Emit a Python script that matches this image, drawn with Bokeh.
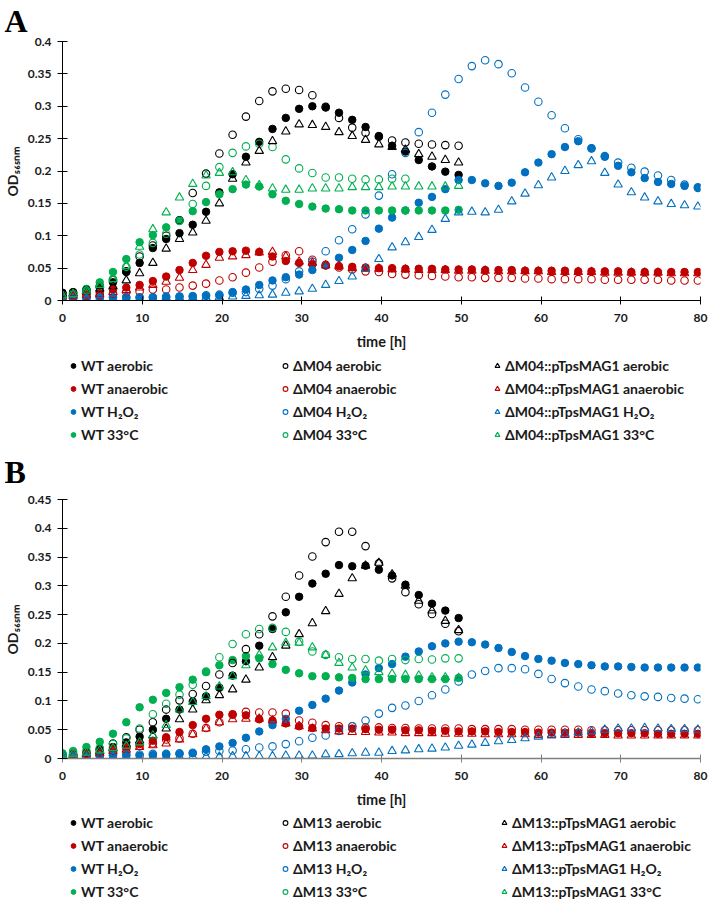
from bokeh.plotting import figure
from bokeh.models import Legend, LegendItem, FixedTicker, Range1d
from bokeh.layouts import column
from bokeh.embed import file_html
from bokeh.resources import INLINE

# ---------------- data ----------------
times = [0, 1.33, 3, 4.67, 6.33, 8, 9.67, 11.33, 13, 14.67, 16.33, 18, 19.67, 21.33, 23, 24.67,
         26.33, 28, 29.67, 31.33, 33, 34.67, 36.33, 38, 39.67, 41.33, 43, 44.67, 46.33, 48, 49.67,
         51.33, 53, 54.67, 56.33, 58, 59.67, 61.33, 63, 64.67, 66.33, 68, 69.67, 71.33, 73, 74.67,
         76.33, 78, 79.67]

x_ticks = [0, 10, 20, 30, 40, 50, 60, 70, 80]
x_tick_labels = ["0", "10", "20", "30", "40", "50", "60", "70", "80"]
yA_ticks = [0, 0.05, 0.1, 0.15, 0.2, 0.25, 0.3, 0.35, 0.4]
yA_tick_labels = ["0", "0.05", "0.1", "0.15", "0.2", "0.25", "0.3", "0.35", "0.4"]
yB_ticks = [0, 0.05, 0.1, 0.15, 0.2, 0.25, 0.3, 0.35, 0.4, 0.45]
yB_tick_labels = ["0", "0.05", "0.1", "0.15", "0.2", "0.25", "0.3", "0.35", "0.4", "0.45"]

conditions = ["aerobic", "anaerobic", "H\u2082O\u2082", "33\u00b0C"]

# Panel A (ΔM04)
A_wt_aer = [0.012, 0.013, 0.016, 0.020, 0.028, 0.044, 0.058, 0.081, 0.095, 0.104, 0.117, 0.137, 0.167,
            0.195, 0.222, 0.245, 0.265, 0.282, 0.296, 0.300, 0.298, 0.290, 0.279, 0.268, 0.254, 0.239,
            0.230, 0.217, 0.207, 0.199, 0.194]
A_mut_aer = [0.010, 0.012, 0.016, 0.022, 0.032, 0.045, 0.068, 0.085, 0.100, 0.124, 0.166, 0.196, 0.227,
             0.256, 0.284, 0.308, 0.323, 0.327, 0.325, 0.317, 0.299, 0.282, 0.267, 0.259, 0.253, 0.247,
             0.244, 0.242, 0.241, 0.240, 0.239]
A_comp_aer = [0.010, 0.011, 0.014, 0.018, 0.022, 0.031, 0.042, 0.058, 0.080, 0.095, 0.105, 0.123, 0.150,
              0.188, 0.213, 0.231, 0.246, 0.261, 0.272, 0.271, 0.268, 0.260, 0.254, 0.248, 0.241, 0.237,
              0.233, 0.226, 0.222, 0.217, 0.213]
A_wt_ana = [0.008, 0.008, 0.010, 0.012, 0.017, 0.020, 0.024, 0.030, 0.037, 0.047, 0.058, 0.069, 0.075,
            0.076, 0.077, 0.075, 0.068, 0.061, 0.058, 0.056, 0.054, 0.053, 0.052, 0.051, 0.050, 0.050,
            0.049, 0.049, 0.049, 0.048, 0.048, 0.048, 0.047, 0.047, 0.047, 0.046, 0.046, 0.046, 0.046,
            0.045, 0.045, 0.045, 0.045, 0.044, 0.044, 0.044, 0.044, 0.044, 0.044]
A_mut_ana = [0.005, 0.006, 0.007, 0.008, 0.010, 0.013, 0.014, 0.017, 0.017, 0.020, 0.023, 0.026, 0.031,
             0.036, 0.043, 0.051, 0.060, 0.070, 0.076, 0.063, 0.055, 0.051, 0.048, 0.045, 0.044, 0.041,
             0.040, 0.039, 0.038, 0.037, 0.036, 0.036, 0.035, 0.035, 0.035, 0.034, 0.034, 0.033, 0.033,
             0.033, 0.033, 0.032, 0.032, 0.032, 0.032, 0.032, 0.031, 0.031, 0.031]
A_comp_ana = [0.006, 0.007, 0.008, 0.010, 0.013, 0.016, 0.020, 0.024, 0.029, 0.035, 0.047, 0.055, 0.066,
              0.068, 0.070, 0.074, 0.075, 0.068, 0.060, 0.058, 0.054, 0.053, 0.050, 0.049, 0.049, 0.048,
              0.048, 0.047, 0.047, 0.047, 0.046, 0.046, 0.046, 0.045, 0.045, 0.045, 0.045, 0.044, 0.044,
              0.044, 0.044, 0.043, 0.043, 0.043, 0.043, 0.043, 0.042, 0.042, 0.042]
A_wt_h2o2 = [0.005, 0.005, 0.005, 0.005, 0.005, 0.005, 0.005, 0.005, 0.005, 0.006, 0.006, 0.007, 0.008,
             0.013, 0.017, 0.024, 0.031, 0.036, 0.040, 0.047, 0.054, 0.066, 0.078, 0.092, 0.111, 0.128,
             0.139, 0.151, 0.160, 0.172, 0.186, 0.186, 0.181, 0.177, 0.182, 0.198, 0.213, 0.226, 0.237,
             0.246, 0.235, 0.222, 0.208, 0.198, 0.189, 0.183, 0.180, 0.177, 0.175]
A_mut_h2o2 = [0.004, 0.004, 0.004, 0.005, 0.005, 0.005, 0.005, 0.005, 0.006, 0.006, 0.007, 0.008, 0.009,
              0.012, 0.013, 0.018, 0.023, 0.033, 0.045, 0.060, 0.076, 0.093, 0.110, 0.133, 0.162, 0.195,
              0.228, 0.260, 0.290, 0.318, 0.342, 0.362, 0.371, 0.365, 0.351, 0.329, 0.307, 0.286, 0.266,
              0.249, 0.235, 0.223, 0.213, 0.205, 0.199, 0.193, 0.186, 0.179, 0.174]
A_comp_h2o2 = [0.003, 0.003, 0.003, 0.003, 0.003, 0.003, 0.003, 0.003, 0.004, 0.004, 0.004, 0.004, 0.005,
               0.006, 0.007, 0.008, 0.009, 0.012, 0.014, 0.018, 0.024, 0.030, 0.037, 0.049, 0.064, 0.082,
               0.090, 0.098, 0.109, 0.126, 0.136, 0.137, 0.136, 0.140, 0.153, 0.165, 0.178, 0.190, 0.200,
               0.209, 0.215, 0.197, 0.179, 0.167, 0.159, 0.153, 0.149, 0.147, 0.145]
A_wt_33 = [0.008, 0.011, 0.018, 0.028, 0.044, 0.064, 0.090, 0.101, 0.113, 0.124, 0.138, 0.152, 0.164,
           0.172, 0.179, 0.176, 0.164, 0.154, 0.149, 0.145, 0.142, 0.141, 0.139, 0.139, 0.139, 0.139,
           0.139, 0.139, 0.139, 0.139, 0.140]
A_mut_33 = [0.008, 0.010, 0.015, 0.022, 0.033, 0.052, 0.071, 0.089, 0.103, 0.123, 0.149, 0.177, 0.206,
            0.228, 0.238, 0.242, 0.237, 0.218, 0.204, 0.197, 0.190, 0.190, 0.188, 0.187, 0.187, 0.188,
            0.188]
A_comp_33 = [0.008, 0.010, 0.015, 0.024, 0.033, 0.053, 0.083, 0.110, 0.136, 0.159, 0.180, 0.193, 0.197,
             0.198, 0.186, 0.178, 0.173, 0.171, 0.171, 0.173, 0.173, 0.173, 0.175, 0.175, 0.175, 0.176,
             0.176, 0.176, 0.176, 0.176, 0.177]

# Panel B (ΔM13)
B_wt_aer = [0.005, 0.007, 0.010, 0.015, 0.020, 0.028, 0.038, 0.050, 0.069, 0.085, 0.099, 0.108, 0.123,
            0.144, 0.169, 0.196, 0.225, 0.254, 0.281, 0.304, 0.321, 0.336, 0.334, 0.335, 0.328, 0.318,
            0.302, 0.284, 0.269, 0.257, 0.244]
B_mut_aer = [0.005, 0.007, 0.010, 0.016, 0.026, 0.037, 0.050, 0.063, 0.085, 0.101, 0.112, 0.126, 0.146,
             0.166, 0.190, 0.216, 0.247, 0.281, 0.318, 0.351, 0.376, 0.394, 0.394, 0.369, 0.339, 0.313,
             0.289, 0.268, 0.251, 0.234, 0.221]
B_comp_aer = [0.005, 0.006, 0.008, 0.012, 0.018, 0.025, 0.031, 0.040, 0.052, 0.068, 0.085, 0.101, 0.110,
              0.120, 0.137, 0.158, 0.176, 0.196, 0.216, 0.235, 0.256, 0.286, 0.313, 0.335, 0.340, 0.320,
              0.300, 0.274, 0.257, 0.239, 0.223]
B_wt_ana = [0.005, 0.006, 0.008, 0.010, 0.017, 0.020, 0.025, 0.031, 0.037, 0.046, 0.058, 0.069, 0.076,
            0.077, 0.075, 0.068, 0.066, 0.061, 0.056, 0.053, 0.052, 0.052, 0.052, 0.051, 0.050, 0.050,
            0.049, 0.049, 0.048, 0.048, 0.047, 0.047, 0.047, 0.046, 0.046, 0.046, 0.045, 0.045, 0.045,
            0.045, 0.044, 0.044, 0.044, 0.044, 0.044, 0.043, 0.043, 0.043, 0.043]
B_mut_ana = [0.005, 0.006, 0.008, 0.010, 0.013, 0.018, 0.022, 0.026, 0.033, 0.035, 0.043, 0.053, 0.063,
             0.076, 0.081, 0.080, 0.080, 0.078, 0.066, 0.062, 0.058, 0.056, 0.056, 0.054, 0.054, 0.053,
             0.053, 0.052, 0.052, 0.052, 0.052, 0.051, 0.051, 0.051, 0.051, 0.050, 0.050, 0.050, 0.050,
             0.050, 0.049, 0.049, 0.049, 0.049, 0.049, 0.049, 0.049, 0.049, 0.049]
B_comp_ana = [0.005, 0.006, 0.007, 0.009, 0.013, 0.015, 0.020, 0.023, 0.026, 0.033, 0.042, 0.052, 0.063,
              0.068, 0.069, 0.069, 0.066, 0.061, 0.056, 0.052, 0.049, 0.047, 0.046, 0.046, 0.045, 0.045,
              0.044, 0.044, 0.044, 0.043, 0.043, 0.043, 0.042, 0.042, 0.042, 0.042, 0.041, 0.041, 0.041,
              0.041, 0.041, 0.041, 0.040, 0.040, 0.040, 0.040, 0.040, 0.040, 0.040]
B_wt_h2o2 = [0.004, 0.004, 0.004, 0.004, 0.005, 0.005, 0.005, 0.006, 0.007, 0.008, 0.009, 0.016, 0.021,
             0.027, 0.036, 0.047, 0.058, 0.069, 0.083, 0.093, 0.104, 0.118, 0.132, 0.146, 0.157, 0.164,
             0.177, 0.186, 0.195, 0.200, 0.203, 0.202, 0.198, 0.192, 0.185, 0.178, 0.173, 0.170, 0.166,
             0.164, 0.162, 0.160, 0.160, 0.159, 0.158, 0.158, 0.158, 0.158, 0.158]
B_mut_h2o2 = [0.005, 0.005, 0.005, 0.006, 0.006, 0.007, 0.007, 0.008, 0.008, 0.009, 0.010, 0.012, 0.013,
              0.014, 0.016, 0.019, 0.021, 0.025, 0.030, 0.036, 0.040, 0.048, 0.056, 0.066, 0.078, 0.088,
              0.092, 0.100, 0.110, 0.120, 0.134, 0.146, 0.152, 0.157, 0.157, 0.155, 0.147, 0.138, 0.131,
              0.125, 0.120, 0.117, 0.113, 0.110, 0.108, 0.107, 0.105, 0.104, 0.103]
B_comp_h2o2 = [0.003, 0.003, 0.003, 0.003, 0.003, 0.003, 0.003, 0.003, 0.003, 0.003, 0.003, 0.003, 0.003,
               0.004, 0.004, 0.004, 0.004, 0.005, 0.005, 0.005, 0.007, 0.0075, 0.009, 0.010, 0.010, 0.013,
               0.014, 0.016, 0.017, 0.019, 0.022, 0.024, 0.027, 0.030, 0.032, 0.035, 0.038, 0.040, 0.043,
               0.045, 0.047, 0.050, 0.052, 0.052, 0.053, 0.052, 0.051, 0.051, 0.050]
B_wt_33 = [0.009, 0.013, 0.020, 0.029, 0.043, 0.063, 0.089, 0.102, 0.114, 0.124, 0.137, 0.150, 0.162,
           0.171, 0.178, 0.174, 0.164, 0.154, 0.148, 0.143, 0.143, 0.141, 0.140, 0.138, 0.138, 0.138,
           0.138, 0.138, 0.138, 0.138, 0.140]
B_mut_33 = [0.008, 0.010, 0.013, 0.018, 0.025, 0.035, 0.052, 0.077, 0.095, 0.111, 0.128, 0.151, 0.176,
            0.199, 0.216, 0.225, 0.227, 0.220, 0.203, 0.186, 0.180, 0.176, 0.173, 0.173, 0.170, 0.173,
            0.171, 0.173, 0.172, 0.174, 0.174]
B_comp_33 = [0.006, 0.008, 0.010, 0.014, 0.018, 0.022, 0.028, 0.040, 0.058, 0.085, 0.098, 0.108, 0.125,
             0.143, 0.162, 0.180, 0.193, 0.201, 0.201, 0.193, 0.180, 0.166, 0.158, 0.153, 0.150, 0.147,
             0.145, 0.144, 0.141, 0.141, 0.140]

# ---------------- style ----------------
FONT = "Lato"
COLORS = ["#000000", "#C00000", "#0070C0", "#00B050"]
TXT = "#1a1a1a"
W = 709


def marker_kwargs(si, col):
    if si == 0:
        return dict(marker="circle", size=7.5, fill_color=col, line_color=col, line_width=1)
    if si == 1:
        return dict(marker="circle", size=7.5, fill_color=None, line_color=col, line_width=1.1)
    return dict(marker="triangle", size=8.5, fill_color=None, line_color=col, line_width=1.1)


def plot_panel(letter, series, ymax, yticks, ylabels, height, b_top, b_bottom,
               xaxis_color, xaxis_w, title_standoff):
    p = figure(width=W, height=height, x_range=(0, 80), y_range=(0, ymax),
               output_backend="svg", toolbar_location=None,
               min_border_left=60, min_border_right=9, min_border_top=b_top,
               min_border_bottom=b_bottom)
    p.outline_line_color = None
    p.xgrid.visible = False
    p.ygrid.visible = False

    p.title.text = letter
    p.title.text_font = "Liberation Serif"
    p.title.text_font_style = "bold"
    p.title.text_font_size = "32px"
    p.title.text_color = "#000000"
    p.title.align = "left"
    p.title.offset = -58
    p.title.standoff = title_standoff
    p.title.vertical_align = "top"

    p.xaxis.ticker = FixedTicker(ticks=x_ticks)
    p.xaxis.major_label_overrides = {t: l for t, l in zip(x_ticks, x_tick_labels)}
    p.yaxis.ticker = FixedTicker(ticks=yticks)
    p.yaxis.major_label_overrides = {t: l for t, l in zip(yticks, ylabels)}
    for ax in (p.xaxis[0], p.yaxis[0]):
        ax.minor_tick_line_color = None
        ax.major_label_text_font = FONT
        ax.major_label_text_font_style = "bold"
        ax.major_label_text_font_size = "12px"
        ax.major_label_text_color = TXT
        ax.axis_label_text_font = FONT
        ax.axis_label_text_font_style = "bold"
        ax.axis_label_text_color = TXT
    p.yaxis.axis_line_color = "#000000"
    p.yaxis.major_tick_line_color = "#000000"
    p.yaxis.major_tick_in = 5
    p.yaxis.major_tick_out = 5
    p.yaxis.major_label_standoff = 6
    p.yaxis.axis_label = "OD\u2085\u2086\u2085\u2099\u2098"
    p.yaxis.axis_label_text_font_size = "14px"
    p.yaxis.axis_label_standoff = 4

    p.xaxis.axis_line_color = xaxis_color
    p.xaxis.axis_line_width = xaxis_w
    p.xaxis.major_tick_line_color = xaxis_color
    p.xaxis.major_tick_in = 4
    p.xaxis.major_tick_out = 4
    p.xaxis.major_label_standoff = 9
    p.xaxis.axis_label = "time [h]"
    p.xaxis.axis_label_text_font_size = "14.5px"
    p.xaxis.axis_label_standoff = 8

    for si in range(3):
        for ci in range(4):
            vals = series[si][ci]
            p.scatter(times[:len(vals)], vals, **marker_kwargs(si, COLORS[ci]))
    return p


def legend_panel(strain, series, height, vy, col_x):
    # the frame of this strip is aligned with the plot frame (left edge at x=60)
    p = figure(width=W, height=height, x_range=(0, 80), y_range=(0, 1),
               output_backend="svg", toolbar_location=None,
               x_axis_location=None, y_axis_location=None,
               min_border_left=60, min_border_right=9, min_border_top=0, min_border_bottom=0)
    p.outline_line_color = None
    p.xgrid.visible = False
    p.ygrid.visible = False
    p.extra_y_ranges = {"off": Range1d(start=5, end=6)}   # keeps the proxy marks out of view
    strains = ["WT", strain, strain + "::pTpsMAG1"]
    for si in range(3):
        items = []
        for ci in range(4):
            vals = series[si][ci]
            r = p.scatter(times[:len(vals)], vals, y_range_name="off",
                          **marker_kwargs(si, COLORS[ci]))
            items.append(LegendItem(label=strains[si] + " " + conditions[ci], renderers=[r]))
        lg = Legend(items=items, location=(col_x[si], vy),
                    orientation="vertical", glyph_width=12, glyph_height=23,
                    label_height=23, label_standoff=2, spacing=0, padding=0, margin=0,
                    border_line_color=None, background_fill_alpha=0,
                    label_text_font=FONT, label_text_font_style="bold",
                    label_text_font_size="14px", label_text_color=TXT)
        p.add_layout(lg, "center")
    return p


seriesA = [[A_wt_aer, A_wt_ana, A_wt_h2o2, A_wt_33],
           [A_mut_aer, A_mut_ana, A_mut_h2o2, A_mut_33],
           [A_comp_aer, A_comp_ana, A_comp_h2o2, A_comp_33]]
seriesB = [[B_wt_aer, B_wt_ana, B_wt_h2o2, B_wt_33],
           [B_mut_aer, B_mut_ana, B_mut_h2o2, B_mut_33],
           [B_comp_aer, B_comp_ana, B_comp_h2o2, B_comp_33]]

pA = plot_panel("A", seriesA, 0.4, yA_ticks, yA_tick_labels, height=352, b_top=41, b_bottom=51,
                xaxis_color="#000000", xaxis_w=1.2, title_standoff=1)
lA = legend_panel("\u0394M04", seriesA, 93, -1, [5, 217, 429])
pB = plot_panel("B", seriesB, 0.45, yB_ticks, yB_tick_labels, height=365, b_top=53, b_bottom=52,
                xaxis_color="#808080", xaxis_w=1.6, title_standoff=16)
lB = legend_panel("\u0394M13", seriesB, 94, 1, [5, 217, 436])

layout = column(pA, lA, pB, lB, spacing=0)
open("out.html", "w").write(file_html(layout, INLINE))
